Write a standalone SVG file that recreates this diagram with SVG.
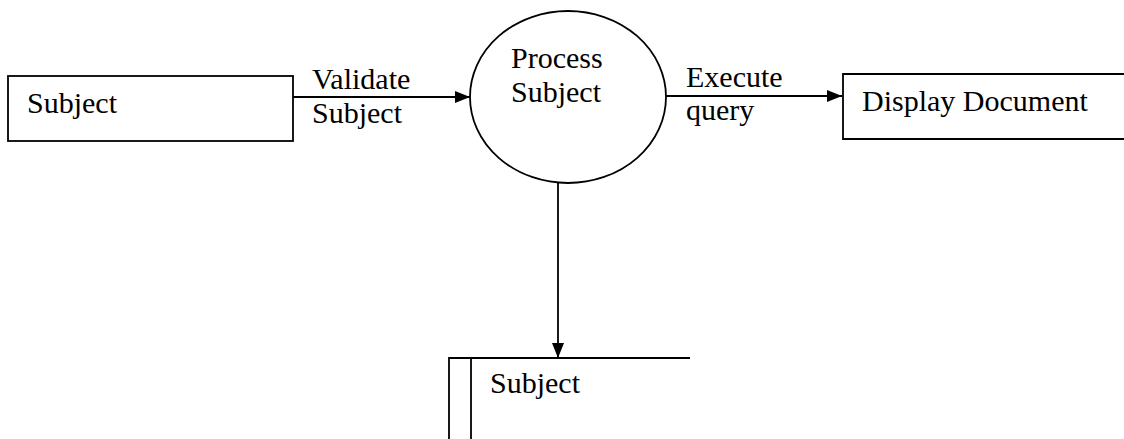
<svg xmlns="http://www.w3.org/2000/svg" width="1124" height="439" viewBox="0 0 1124 439">
  <style>
    .shape { fill: none; stroke: #000; stroke-width: 1.8; }
    .link { fill: none; stroke: #000; stroke-width: 1.8; }
    .label { font-family: "Liberation Serif", "Times New Roman", serif; font-size: 30px; fill: #000; }
  </style>
  <defs>
    <marker id="arrow" viewBox="0 0 15 12" refX="15" refY="6" markerWidth="15" markerHeight="12" markerUnits="userSpaceOnUse" orient="auto">
      <path d="M0,0 L15,6 L0,12 Z" fill="#000"/>
    </marker>
  </defs>
  <rect width="1124" height="439" fill="#fff"/>

  <!-- external entity: Subject -->
  <g id="entity-subject">
    <rect class="shape" x="8" y="76" width="285" height="65"/>
    <text class="label" x="27" y="113">Subject</text>
  </g>

  <!-- process bubble -->
  <g id="process-subject">
    <ellipse class="shape" cx="568" cy="97" rx="98" ry="86"/>
    <text class="label" x="511" y="68">Process</text>
    <text class="label" x="511" y="102">Subject</text>
  </g>

  <!-- output entity: Display Document (open on the right) -->
  <g id="display-document">
    <path class="shape" d="M1124,74 H843 V139 H1124"/>
    <text class="label" x="862" y="111">Display Document</text>
  </g>

  <!-- data store: Subject -->
  <g id="store-subject">
    <path class="shape" d="M449,439 V358 H690"/>
    <line class="shape" x1="471" y1="358" x2="471" y2="439"/>
    <text class="label" x="490" y="393">Subject</text>
  </g>

  <!-- flows -->
  <g id="connectors">
    <line class="link" x1="293" y1="97" x2="470" y2="97" marker-end="url(#arrow)"/>
    <text class="label" x="312" y="89">Validate</text>
    <text class="label" x="312" y="123">Subject</text>

    <line class="link" x1="666" y1="96" x2="842" y2="96" marker-end="url(#arrow)"/>
    <text class="label" x="686" y="87">Execute</text>
    <text class="label" x="686" y="120">query</text>

    <line class="link" x1="558" y1="183" x2="558" y2="358" marker-end="url(#arrow)"/>
  </g>
</svg>
